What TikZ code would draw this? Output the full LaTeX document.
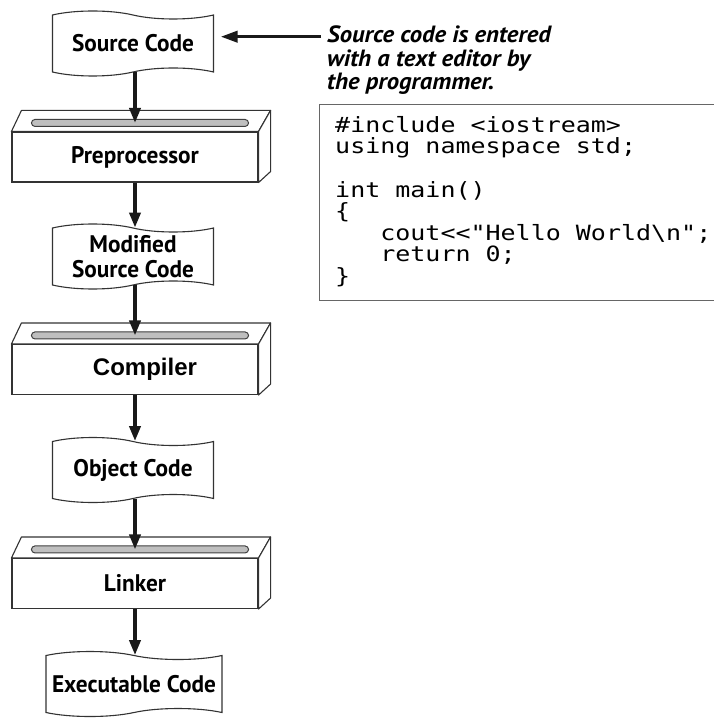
\documentclass[tikz,border=0pt]{standalone}
\usepackage{fontspec}
\newfontfamily\labelfont{PT Sans}[FakeStretch=0.97]
\newfontfamily\notefont{PT Sans}[FakeStretch=1.05]
\newfontfamily\helvfont{Liberation Sans}
\newfontfamily\codefont{DejaVu Sans Mono}[FakeStretch=1.19]
\newcommand{\codespacing}{\spaceskip=\fontcharwd\font`\x\relax}
\usetikzlibrary{arrows.meta,shapes.symbols,calc}

\begin{document}
\begin{tikzpicture}[x = 1pt, y = -1pt,
    doc/.style = {tape, draw = black!80, line width = 1.1pt, fill = white,
      tape bend top = out and in, tape bend bottom = in and out, tape bend height = 8pt,
      minimum width = 161pt, minimum height = 65pt, inner sep = 0pt, align = center,
      font = \labelfont\bfseries\fontsize{24}{25}\selectfont},
    proc/.style = {rectangle, draw = black!80, line width = 1.1pt, fill = white,
      minimum width = 246pt, minimum height = 50pt,
      font = \labelfont\bfseries\fontsize{24}{25}\selectfont},
    flow/.style = {line width = 3.6pt, draw = black!90, -{Triangle[width = 11pt, length = 15pt]}}]
    \useasboundingbox (0,0) rectangle (713,719);

    \node[doc] (src) at (133,43.5) {Source Code};
    \node[proc] (prepro) at (135,157) {Preprocessor};
    \node[doc] (mod) at (133,256.5) {Modified\\Source Code};
    \node[proc, font = \helvfont\bfseries\fontsize{24}{28}\selectfont] (comp) at (135,369.5) {\hspace*{20pt}Compiler};
    \node[doc] (obj) at (133,470) {Object Code};
    \node[proc] (link) at (135,583.5) {Linker};
    \node[doc, minimum width = 176pt] (exe) at (134,684) {Executable Code};

    % top and side of the boxes, with the slot
    \foreach \b in {prepro, comp, link} {
      \draw[draw = black!80, line width = 1.1pt, fill = white, line join = round]
        (\b.north west) -- ++(10,-21) -- ($(\b.north east)+(12,-21)$) -- (\b.north east) -- cycle;
      \draw[draw = black!80, line width = 1.1pt, fill = white, line join = round]
        (\b.north east) -- ++(12,-21) -- ($(\b.south east)+(12,-11)$) -- (\b.south east) -- cycle;
      \draw[draw = black!75, line width = 1pt, fill = gray!50, rounded corners = 3.5pt]
        ($(\b.north west)+(20,-12)$) rectangle ($(\b.north east)+(-10,-5)$);
      \coordinate (\b-in) at ($(\b.north)+(0,-8.5)$);
    }

    \draw[flow] (src.south -| prepro.north) -- (prepro-in);
    \draw[flow] (prepro.south) -- (prepro.south |- mod.north);
    \draw[flow] (mod.south -| comp.north) -- (comp-in);
    \draw[flow] (comp.south) -- (comp.south |- obj.north);
    \draw[flow] (obj.south -| link.north) -- (link-in);
    \draw[flow] (link.south) -- (link.south |- exe.north);

    \node[anchor = north west, align = left, inner sep = 0pt,
      font = \notefont\bfseries\itshape\fontsize{23.5}{23.5}\selectfont] (note) at (327,26)
      {Source code is entered\\with a text editor by\\the programmer.};
    \coordinate (note-arrow) at (321,36.7);
    \draw[flow, -{Triangle[width = 11pt, length = 17pt]}, shorten > = 6.5pt] (note-arrow) -- (note-arrow -| src.east);

    % the box runs off the right edge, as in the original
    \node[draw = black!60, line width = 1.4pt, anchor = north west, minimum width = 420pt,
      minimum height = 196pt] (code) at (319,104) {};
    \node[anchor = north west, align = left, inner sep = 0pt,
      font = \codefont\fontsize{21}{21.6}\selectfont\codespacing]
      (code-text) at ($(code.north west)+(16,12)$)
      {\#include <iostream>\\using namespace std;\\[21.6pt]int main()\\\{\\\phantom{xxx}cout<<"Hello World\textbackslash n";\\\phantom{xxx}return 0;\\\}};
  \end{tikzpicture}
\end{document}
